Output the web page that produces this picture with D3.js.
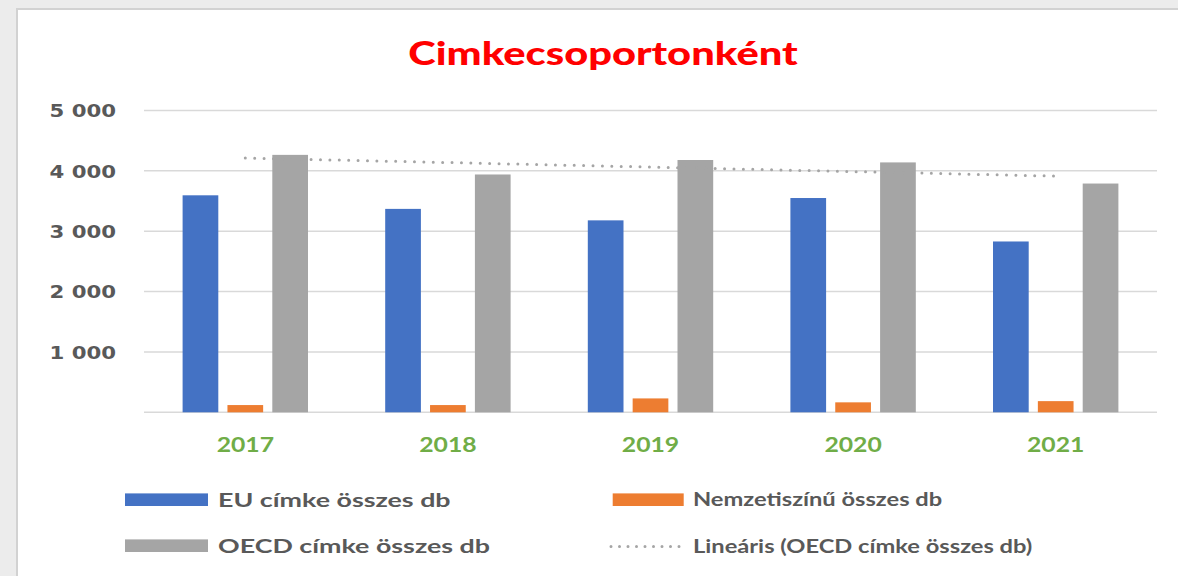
<!DOCTYPE html>
<html><head><meta charset="utf-8">
<script src="https://cdn.jsdelivr.net/npm/d3@7"></script>
<style>
html,body{margin:0;padding:0;background:#ebebeb;}
svg{display:block;}
</style></head>
<body>
<svg id="chart" width="1178" height="576"></svg>
<script>
const years = ["2017","2018","2019","2020","2021"];
const seriesNames = ["EU címke összes db","Nemzetiszínű összes db","OECD címke összes db"];
const euValues = [3595, 3370, 3180, 3550, 2830];
const nemzetiValues = [120, 120, 230, 165, 185];
const oecdValues = [4265, 3940, 4180, 4140, 3790];
const yTicks = [1000, 2000, 3000, 4000, 5000];
const trendName = "Lineáris (OECD címke összes db)";
const titleText = "Cimkecsoportonként";

const colors = ["#4472C4","#ED7D31","#A5A5A5"];
const svg = d3.select("#chart");

// panel
svg.append("rect").attr("x",0).attr("y",0).attr("width",1178).attr("height",576).attr("fill","#ececec");
svg.append("rect").attr("x",17).attr("y",9).attr("width",1170).attr("height",580)
  .attr("fill","#ffffff").attr("stroke","#d2d2d2").attr("stroke-width",2);

const plotL = 144, plotR = 1157;
const x0 = d3.scaleBand().domain(years).range([plotL, plotR]).padding(0);
const x1 = d3.scaleBand().domain(seriesNames).range([38.6, x0.bandwidth()-38.6]).paddingInner(0.204);
const y = d3.scaleLinear().domain([0,5000]).range([412.3,110.5]);

function stretchedText(g, txt, x, yy, opts){
  const t = g.append("g").attr("transform",`translate(${x},${yy}) scale(${opts.sx||1},1)`)
    .append("text").text(txt)
    .attr("font-family",opts.family).attr("font-weight",opts.weight||"bold")
    .attr("font-size",opts.size).attr("fill",opts.fill)
    .attr("text-anchor",opts.anchor||"start");
  return t;
}

// gridlines
svg.append("g").selectAll("line").data([0].concat(yTicks)).join("line")
  .attr("x1",plotL).attr("x2",plotR)
  .attr("y1",d=>y(d)).attr("y2",d=>y(d))
  .attr("stroke","#d9d9d9").attr("stroke-width",1.5);

// y labels
const yl = svg.append("g");
yTicks.forEach(v=>{
  stretchedText(yl, d3.format(",")(v).replace(/,/g," "), 116, y(v)+6.7,
    {family:"DejaVu Sans", size:18, sx:1.18, fill:"#595959", anchor:"end"});
});

// bars
const data = years.map((yr,i)=>({year:yr, vals:[euValues[i], nemzetiValues[i], oecdValues[i]]}));
const groups = svg.append("g").selectAll("g").data(data).join("g")
  .attr("transform",d=>`translate(${x0(d.year)},0)`);
groups.selectAll("rect").data(d=>d.vals.map((v,k)=>({v, k}))).join("rect")
  .attr("x",d=>x1(seriesNames[d.k]))
  .attr("width",x1.bandwidth())
  .attr("y",d=>y(d.v))
  .attr("height",d=>y(0)-y(d.v))
  .attr("fill",d=>colors[d.k]);

// linear trendline of OECD (least squares)
const n = oecdValues.length;
const xs = d3.range(n);
const mx = d3.mean(xs), my = d3.mean(oecdValues);
const slope = d3.sum(xs.map((xi,i)=>(xi-mx)*(oecdValues[i]-my))) / d3.sum(xs.map(xi=>(xi-mx)*(xi-mx)));
const icpt = my - slope*mx;
const trendPts = [0, n-1].map(i=>[x0(years[i])+x0.bandwidth()/2, y(icpt+slope*i)]);
svg.append("path").attr("d",d3.line()(trendPts))
  .attr("fill","none").attr("stroke","#a5a5a5").attr("stroke-width",3)
  .attr("stroke-linecap","round").attr("stroke-dasharray","0,9.4");

// x labels
const xl = svg.append("g");
years.forEach(yr=>{
  stretchedText(xl, yr, x0(yr)+x0.bandwidth()/2, 452.3,
    {family:"Lato", size:21.7, sx:1.14, fill:"#70AD47", anchor:"middle"});
});

// title
stretchedText(svg, titleText, 603, 65, {family:"Lato", size:32, sx:1.3, fill:"#FF0000", anchor:"middle", weight:"900"});

// legend
const lg = svg.append("g");
const legendItems = [
  {name:seriesNames[0], type:"bar", color:colors[0], sx0:125, sw:83, tx:218, cy:499.7, fs:19.5, fx:1.375},
  {name:seriesNames[1], type:"bar", color:colors[1], sx0:612.7, sw:71, tx:693, cy:499.7, fs:18.5, fx:1.28},
  {name:seriesNames[2], type:"bar", color:colors[2], sx0:125, sw:83, tx:218, cy:545.7, fs:19.5, fx:1.375},
  {name:trendName, type:"line", color:colors[2], sx0:611, sw:69, tx:693, cy:546.5, fs:18.5, fx:1.28}
];
legendItems.forEach(it=>{
  if(it.type==="bar"){
    lg.append("rect").attr("x",it.sx0).attr("y",it.cy-6.3).attr("width",it.sw).attr("height",12.6).attr("fill",it.color);
  } else {
    lg.append("line").attr("x1",it.sx0).attr("x2",it.sx0+it.sw).attr("y1",it.cy).attr("y2",it.cy)
      .attr("stroke",it.color).attr("stroke-width",3).attr("stroke-linecap","round").attr("stroke-dasharray","0,8.5");
  }
  stretchedText(lg, it.name, it.tx, it.cy+it.fs*0.36, {family:"Lato", size:it.fs, sx:it.fx, fill:"#595959"});
});
</script>
</body></html>
